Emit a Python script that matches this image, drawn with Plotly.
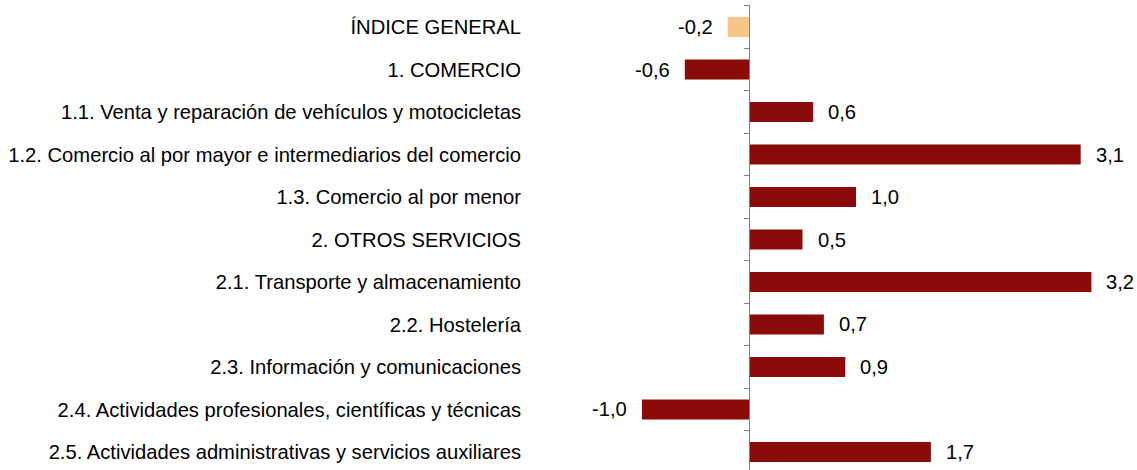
import plotly.graph_objects as go

categories = [
    "ÍNDICE GENERAL",
    "1. COMERCIO",
    "1.1. Venta y reparación de vehículos y motocicletas",
    "1.2. Comercio al por mayor e intermediarios del comercio",
    "1.3. Comercio al por menor",
    "2. OTROS SERVICIOS",
    "2.1. Transporte y almacenamiento",
    "2.2. Hostelería",
    "2.3. Información y comunicaciones",
    "2.4. Actividades profesionales, científicas y técnicas",
    "2.5. Actividades administrativas y servicios auxiliares",
]
values = [-0.2, -0.6, 0.6, 3.1, 1.0, 0.5, 3.2, 0.7, 0.9, -1.0, 1.7]

DARK = "#8B0A0A"
LIGHT = "#F5C685"
colors = [LIGHT] + [DARK] * (len(values) - 1)

W, H = 1137, 470
L, R, T, B = 524, 0, 5, 0
zero_px, scale = 749, 107.0
xmin = -(zero_px - L) / scale
xmax = (W - R - zero_px) / scale
yrange = [10.424, -0.518]
font = dict(family="Liberation Sans, Arial, sans-serif", size=20.2, color="#000000")

fig = go.Figure()
fig.add_trace(go.Bar(
    y=categories, x=values, orientation="h",
    marker=dict(color=colors, line=dict(width=0)),
    width=0.47, hoverinfo="skip",
))
# invisible trace that carries the category axis drawn at zero
fig.add_trace(go.Scatter(
    y=categories, x=[0] * len(categories), yaxis="y2", mode="markers",
    marker=dict(opacity=0), hoverinfo="skip", showlegend=False,
))

for c, v in zip(categories, values):
    txt = f"{v:.1f}".replace(".", ",")
    fig.add_annotation(
        x=v, y=c, text=txt, showarrow=False,
        xanchor="left" if v >= 0 else "right",
        xshift=13 if v >= 0 else -13,
        font=font,
    )

fig.update_layout(
    width=W, height=H, autosize=False,
    margin=dict(l=L, r=R, t=T, b=B),
    plot_bgcolor="white", paper_bgcolor="white",
    showlegend=False, font=font,
    xaxis=dict(range=[xmin, xmax], showgrid=False, zeroline=False,
               showticklabels=False, showline=False, ticks=""),
    yaxis=dict(range=yrange, showgrid=False, showline=False,
               ticks="", tickfont=font, ticklabelstandoff=2),
    yaxis2=dict(overlaying="y", anchor="free",
                position=(0 - xmin) / (xmax - xmin),
                range=yrange, showgrid=False, showticklabels=False,
                showline=True, linecolor="#808080", linewidth=1,
                ticks="outside", tickson="boundaries", ticklen=5,
                tickcolor="#808080", tickwidth=1, side="left"),
)

fig.write_html("out.html", config={"displayModeBar": False},
               post_script="document.body.style.margin='0';")
